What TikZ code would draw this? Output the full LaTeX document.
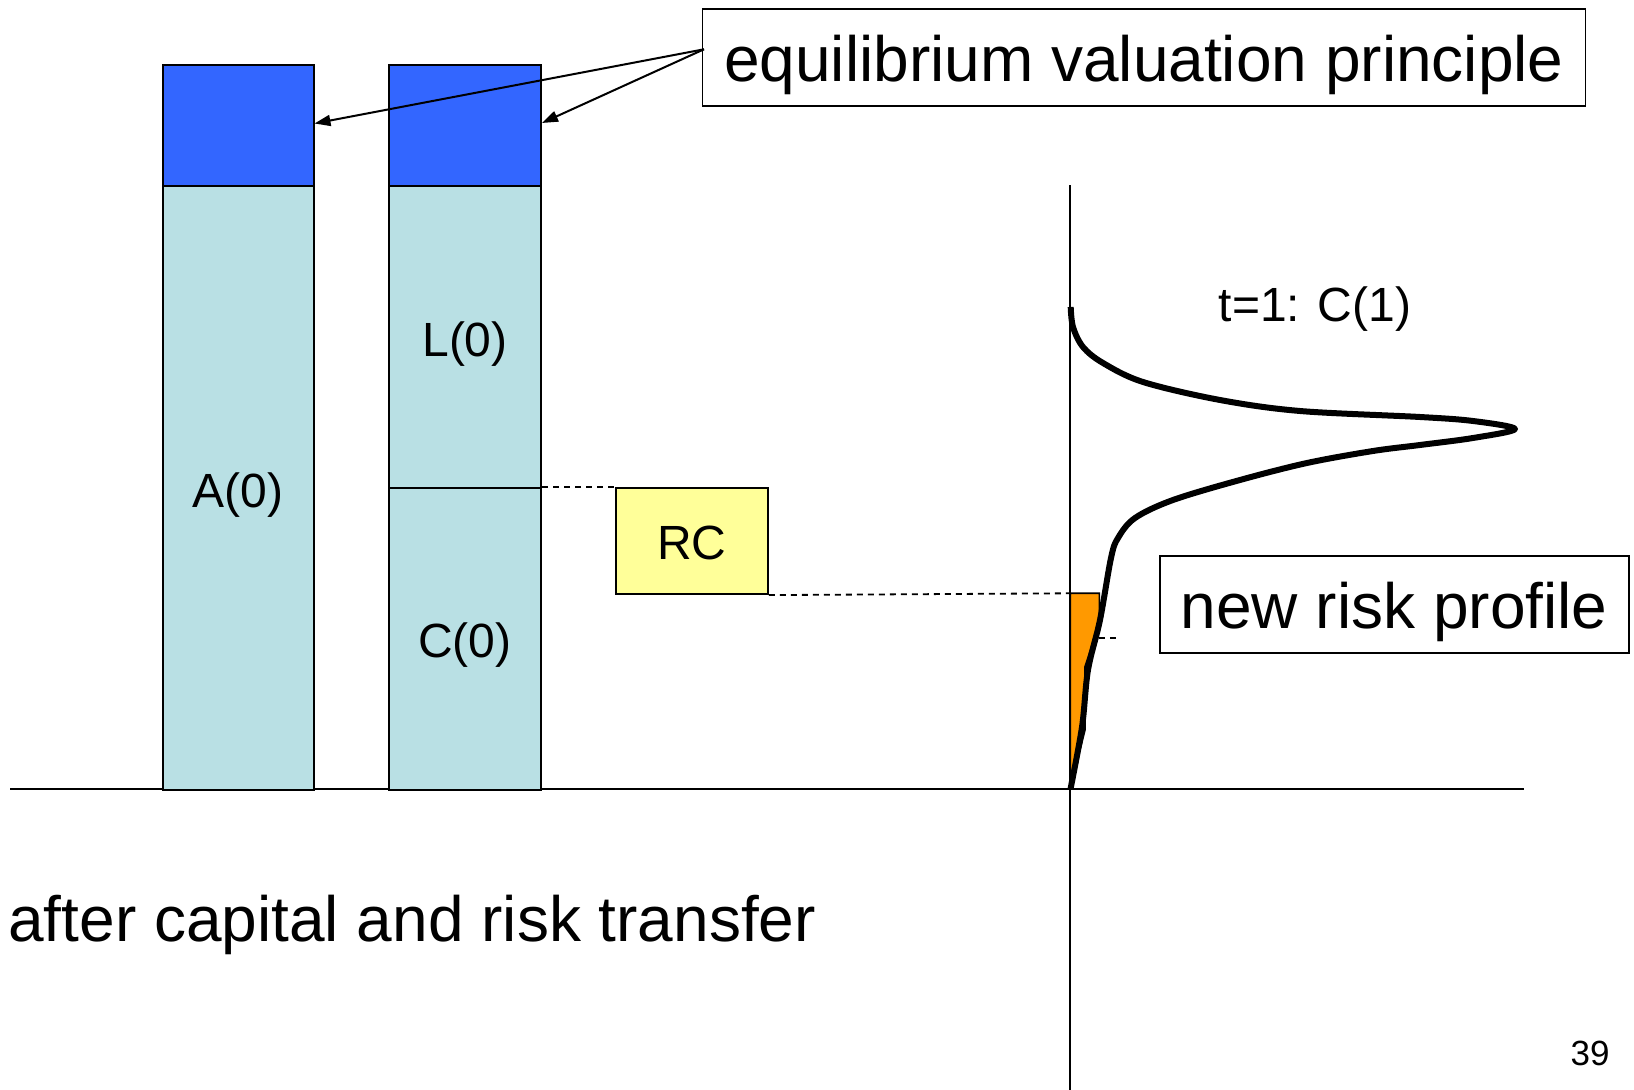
\documentclass[tikz,border=0pt]{standalone}
\usepackage{fontspec}
\setmainfont{Liberation Sans}
\usetikzlibrary{arrows.meta}
\definecolor{barblue}{HTML}{3366FF}
\definecolor{barlight}{HTML}{B9E0E4}
\definecolor{rcyellow}{HTML}{FFFF99}
\definecolor{riskorange}{HTML}{FF9900}
\tikzset{
  bar/.style={draw=black, line width=1pt, anchor=north west, inner sep=0pt, text height=19pt, text depth=0pt, font=\fontsize{24}{28}\selectfont},
  bigbox/.style={draw=black, line width=0.9pt, fill=white, anchor=north west, inner sep=0pt, text height=24pt, text depth=0pt, font=\fontsize{32}{38}\selectfont},
  thinline/.style={line width=1pt},
  dashline/.style={line width=0.9pt, dash pattern=on 3pt off 2.5pt},
  arr/.style={line width=1pt, -{Triangle[length=8pt,width=5.5pt]}},
  lbl/.style={inner sep=0pt}
}
\begin{document}
\begin{tikzpicture}[x=0.5pt,y=-0.5pt]
\useasboundingbox (0,0) rectangle (1634,1090);
% axes
\draw[thinline] (10.4,788.9) coordinate (bl) -- (1523.6,788.9) coordinate (br);
\draw[thinline] (1070.2,185.5) coordinate (at) -- (1070.2,1090) coordinate (ab);
% bars
\node[bar, fill=barblue, minimum width=75.5pt, minimum height=61pt] (ablue) at (161.5,63.6) {};
\node[bar, fill=barlight, minimum width=75.5pt, minimum height=301.7pt] (abar) at (161.5,185.5) {A(0)};
\node[bar, fill=barblue, minimum width=76pt, minimum height=61pt] (lblue) at (388,63.6) {};
\node[bar, fill=barlight, minimum width=76pt, minimum height=150.6pt] (lbar) at (388,185.5) {L(0)};
\node[bar, fill=barlight, minimum width=76pt, minimum height=151.1pt] (cbar) at (388,486.7) {C(0)};
% RC
\node[bar, fill=rcyellow, minimum width=76pt, minimum height=53.2pt] (rc) at (614.8,486.7) {RC};
% orange region
\fill[riskorange, draw=black, line width=0.8pt] (1070.2,593.3) coordinate (otl) -- (1099.3,593.3) coordinate (otr) -- (1099.3,623.3) -- (1085,666.7) -- (1085,730) -- (1070.2,790) -- cycle;
\coordinate (odash) at (1099.3,638);
\coordinate (odashend) at (1117,638);
% dashed lines
\draw[dashline] (cbar.north east) -- (rc.north west);
\draw[dashline] (rc.south east) -- (otl);
\draw[dashline] (odash) -- (odashend);
% distribution curve
\draw[line width=3pt, line join=round] plot[smooth, tension=0.55] coordinates {
 (1070.7,307) (1073,327) (1083,347) (1103,363) (1143,382) (1220,400) (1300,411) (1420,417) (1473,421) (1515,429)
 (1473,438) (1420,445) (1373,451) (1307,463) (1240,480) (1173,500) (1135,518) (1118,538) (1111,558) (1100,620) (1088,670) (1082,727) (1070.5,789)};
% boxes
\node[bigbox, minimum width=441.5pt, minimum height=48.5pt] (eq) at (701.5,8.3) {equilibrium valuation principle};
\node[bigbox, minimum width=234.5pt, minimum height=48.5pt] (nrp) at (1158.8,555.4) {new risk profile};
\coordinate (eqa) at (704,49.3);
\draw[arr] (eqa) -- (ablue.east |- 0,123.5);
\draw[arr] (eqa) -- (lblue.east |- 0,123);
% texts
\node[lbl, anchor=base, font=\fontsize{24}{28}\selectfont] (t1) at (1315,322) {t=1: C(1)};
\node[lbl, anchor=base west, font=\fontsize{32}{38}\selectfont] (after) at (8,941) {after capital and risk transfer};
\node[lbl, anchor=base, font=\fontsize{17.5}{20}\selectfont] (pg) at (1590,1065) {39};
\end{tikzpicture}
\end{document}
